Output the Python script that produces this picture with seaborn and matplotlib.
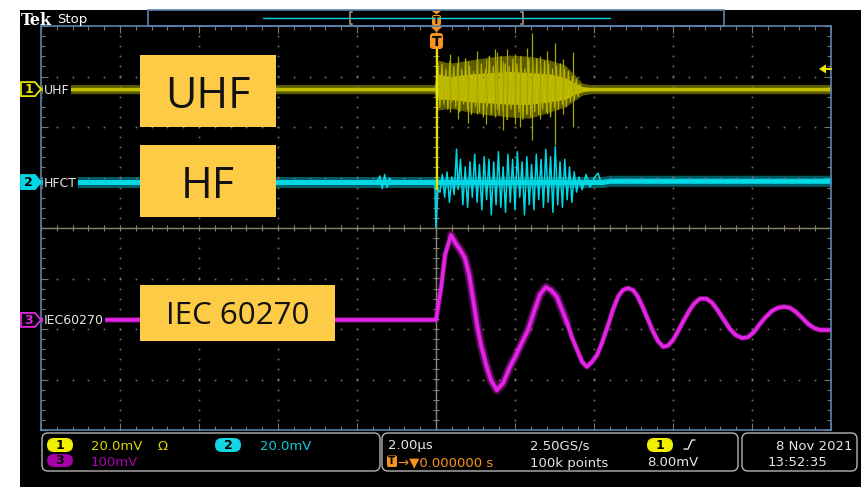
import numpy as np
import pandas as pd
import matplotlib
matplotlib.use("Agg")
import matplotlib.pyplot as plt
from matplotlib.patches import Rectangle, FancyBboxPatch, Polygon
from matplotlib.ticker import MultipleLocator
import seaborn as sns

# ---------------------------------------------------------------------------
# Acquisition settings
# ---------------------------------------------------------------------------
SCALE_MV = {"UHF": 20.0, "HFCT": 20.0, "IEC60270": 100.0}      # mV / div
POSITION_DIV = {"UHF": 2.75, "HFCT": 0.91, "IEC60270": -1.82}  # ground marker, div
TRIGGER_LEVEL_MV = 8.0

# ---------------------------------------------------------------------------
# Channel 1 - UHF antenna (time in µs, amplitude in mV)
# ---------------------------------------------------------------------------
uhf_env_t = [-10.0, -0.05, 0.05, 0.35, 0.85, 1.37, 1.87, 2.38, 2.89, 3.27, 3.52, 3.70, 3.90, 10.0]
uhf_env_hi = [1.8, 1.8, 11.5, 10.3, 11.5, 12.7, 13.5, 13.0, 11.5, 9.5, 5.5, 2.4, 1.8, 1.8]
uhf_env_lo = [-1.8, -1.8, -8.3, -7.5, -9.1, -10.3, -11.0, -11.5, -9.0, -7.0, -4.4, -2.4, -1.8, -1.8]
uhf_core_hi = [0.7, 0.7, 6.0, 5.0, 6.0, 6.5, 7.0, 6.5, 6.0, 4.5, 2.5, 1.0, 0.7, 0.7]
uhf_core_lo = [-0.7, -0.7, -4.0, -4.0, -5.0, -5.5, -6.0, -6.0, -5.0, -4.0, -2.0, -1.0, -0.7, -0.7]
# oscillation inside the burst
uhf_burst_t = [0.05, 0.10, 0.15, 0.20, 0.25, 0.30, 0.35, 0.40, 0.45, 0.50,
               0.55, 0.60, 0.65, 0.70, 0.75, 0.80, 0.85, 0.90, 0.95, 1.00,
               1.05, 1.10, 1.15, 1.20, 1.25, 1.30, 1.35, 1.40, 1.45, 1.50,
               1.55, 1.60, 1.65, 1.70, 1.75, 1.80, 1.85, 1.90, 1.95, 2.00,
               2.05, 2.10, 2.15, 2.20, 2.25, 2.30, 2.35, 2.40, 2.45, 2.50,
               2.55, 2.60, 2.65, 2.70, 2.75, 2.80, 2.85, 2.90, 2.95, 3.00,
               3.05, 3.10, 3.15, 3.20, 3.25, 3.30, 3.35, 3.40, 3.45, 3.50,
               3.55, 3.60, 3.65, 3.70]
uhf_burst_v = [9, -7, 10, -6, 8, -8, 11, -5, 9, -7,
               10, -9, 8, -6, 12, -8, 9, -10, 7, -7,
               12, -9, 10, -11, 8, -7, 13, -10, 9, -8,
               11, -10, 13, -9, 10, -12, 9, -8, 12, -11,
               10, -9, 13, -12, 8, -10, 12, -11, 11, -9,
               12, -10, 9, -8, 11, -9, 10, -11, 8, -7,
               9, -8, 10, -6, 8, -7, 7, -5, 5, -4,
               4, -3, 2, -1.5]
# isolated large excursions inside the burst
uhf_spike_t = [0.35, 0.56, 0.81, 1.04, 1.27, 1.49, 1.54, 1.70, 1.80, 2.00, 2.13, 2.30, 2.43, 2.63, 2.81, 3.01, 3.22, 3.47]
uhf_spike_hi = [14.0, 13.0, 11.0, 15.0, 12.0, 16.0, 14.7, 11.0, 16.0, 14.0, 12.0, 16.2, 22.2, 13.0, 15.0, 18.2, 12.0, 14.7]
uhf_spike_lo = [-9.0, -12.0, -13.5, -10.0, -14.0, -11.0, -8.0, -16.2, -12.0, -14.0, -15.0, -10.0, -20.2, -12.0, -10.0, -22.2, -10.0, -15.0]
uhf_trig_t = 0.02
uhf_trig_hi = 17.4
uhf_trig_lo = -40.0

# ---------------------------------------------------------------------------
# Channel 2 - HFCT
# ---------------------------------------------------------------------------
hfct_t = [-10.0, -1.50, -1.42, -1.36, -1.30, -1.24, -1.18, -1.10, -0.03, 0.0, 0.05,
          0.10, 0.16, 0.22, 0.28, 0.34, 0.40, 0.46, 0.52,
          0.56, 0.62, 0.68, 0.74, 0.80, 0.86, 0.92, 0.98,
          1.04, 1.10, 1.16, 1.22, 1.28, 1.34, 1.40, 1.46,
          1.52, 1.58, 1.64, 1.70, 1.76, 1.82, 1.88, 1.94,
          2.00, 2.06, 2.12, 2.18, 2.24, 2.30, 2.36, 2.42,
          2.48, 2.54, 2.60, 2.66, 2.72, 2.78, 2.84, 2.90,
          2.96, 3.02, 3.08, 3.14, 3.20, 3.26, 3.32, 3.38,
          3.44, 3.50, 3.56, 3.62,
          3.70, 3.80, 3.90, 4.00, 4.10, 4.20, 4.35, 10.0]
hfct_v = [0.0, 0.0, 2.4, -2.6, 3.0, -2.2, 1.5, 0.0, 0.0, -18.0, -3.0,
          -4, 3, -6, 4, -8, 2, -5, 13,
          -3, 9, -9, 6, -10, 8, -6, 11,
          -8, 7, -11, 10, -7, 9, -13, 8,
          -9, 12, -10, 6, -12, 11, -8, 9,
          -11, 12, -6, 8, -13, 10, -9, 7,
          -11, 11, -7, 9, -10, 13, -8, 10,
          -12, 14, -9, 8, -10, 9, -7, 6,
          -8, 4, -4, 2,
          -3, 3, -2, 1.5, 3.5, -1, 0.5, 0.5]
hfct_noise_t = [-10.0, 4.2, 4.4, 10.0]
hfct_noise_hi = [2.2, 2.2, 2.7, 2.7]
hfct_noise_lo = [-2.2, -2.2, -1.7, -1.7]
hfct_core_hi = [1.0, 1.0, 1.5, 1.5]
hfct_core_lo = [-1.0, -1.0, -0.5, -0.5]

# ---------------------------------------------------------------------------
# Channel 3 - IEC 60270 apparent-charge measuring circuit
# ---------------------------------------------------------------------------
iec_t = [-10.0, -0.02, 0.00, 0.13, 0.23, 0.38, 0.51, 0.61, 0.73, 0.84, 0.94,
         1.04, 1.14, 1.27, 1.39, 1.54, 1.70, 1.87, 2.03,
         2.18, 2.33, 2.48, 2.63, 2.78, 2.91, 3.06, 3.19,
         3.32, 3.44, 3.57, 3.70, 3.82, 3.95, 4.08, 4.20,
         4.35, 4.48, 4.61, 4.73, 4.86, 4.99, 5.11, 5.24,
         5.37, 5.49, 5.62, 5.75, 5.87, 6.00, 6.13, 6.28,
         6.41, 6.53, 6.68, 6.84, 6.99, 7.14, 7.29, 7.44,
         7.59, 7.75, 7.90, 8.05, 8.20, 8.35, 8.51, 8.66,
         8.81, 8.96, 9.11, 9.27, 9.42, 9.57, 9.72, 9.87, 10.0]
iec_v = [0, 0, 0, 65, 129, 168, 150, 139, 123, 89, 40,
         -10, -50, -89, -119, -139, -125, -93, -69,
         -44, -20, 16, 50, 65, 59, 46, 20,
         -6, -34, -59, -83, -93, -83, -69, -46,
         -12, 20, 46, 59, 63, 59, 46, 24,
         0, -22, -42, -53, -51, -40, -22, 0,
         18, 32, 42, 42, 34, 18, 0, -18,
         -30, -36, -34, -24, -8, 6, 18, 24,
         26, 24, 16, 4, -8, -16, -20, -20, -20]

# Readouts
ch_labels = ["UHF", "HFCT", "IEC60270"]
box_labels = ["UHF", "HF", "IEC 60270"]
ch1_scale_txt, ch2_scale_txt, ch3_scale_txt = "20.0mV", "20.0mV", "100mV"
timebase_txt, samplerate_txt, record_txt = "2.00µs", "2.50GS/s", "100k points"
delay_txt = "→▼0.000000 s"
trig_level_txt = "8.00mV"
date_txt, time_txt = "8 Nov 2021", "13:52:35"

# ---------------------------------------------------------------------------
YEL, YEL_DIM, YEL_CORE = "#e8e400", "#7c7a00", "#dcd800"
CYA, CYA_DIM = "#00d8e6", "#00a8b4"
MAG = "#e424e4"
ORANGE = "#f7941d"
DOT = "#7c7762"
FRAME = "#5a82ad"
WHITE_TXT = "#e6e6e6"
BOX_FILL = "#fdcb46"

sns.set_theme(style="dark", rc={"axes.facecolor": "black", "figure.facecolor": "black"})
plt.rcParams["font.family"] = ["DejaVu Sans"]

W, H = 861, 487
fig = plt.figure(figsize=(W / 100, H / 100), dpi=100)

# background layer in pixel units
bg = fig.add_axes([0, 0, 1, 1], zorder=0)
bg.set_xlim(0, W); bg.set_ylim(H, 0); bg.axis("off")
bg.add_patch(Rectangle((0, 0), W, H, fc="black", lw=0))
bg.add_patch(Rectangle((0, 0), W, 10, fc="white", lw=0))
bg.add_patch(Rectangle((0, 0), 20, H, fc="white", lw=0))

# graticule: 10 x 8 divisions, 2 µs/div
gx0, gy0, gx1, gy1 = 41, 26, 831, 430
ax = fig.add_axes([gx0 / W, (H - gy1) / H, (gx1 - gx0) / W, (gy1 - gy0) / H], zorder=1)
ax.set_facecolor("black")
ax.set_xlim(-10, 10)
ax.set_ylim(-4, 4)
ax.grid(False)
for s in ax.spines.values():
    s.set_color(FRAME); s.set_linewidth(1.2); s.set_visible(True)
ax.xaxis.set_major_locator(MultipleLocator(2))
ax.xaxis.set_minor_locator(MultipleLocator(0.4))
ax.yaxis.set_major_locator(MultipleLocator(1))
ax.yaxis.set_minor_locator(MultipleLocator(0.2))
ax.tick_params(which="both", direction="in", top=True, right=True, bottom=True, left=True,
               labelbottom=False, labelleft=False, color=DOT, width=0.8)
ax.tick_params(which="major", length=5)
ax.tick_params(which="minor", length=3)
ax.set_xlabel(""); ax.set_ylabel("")

ys_dots = np.arange(-4, 4.001, 0.2)
xs_dots = np.arange(-10, 10.001, 0.4)
for gx in [-8, -6, -4, -2, 2, 4, 6, 8]:
    ax.plot(np.full(ys_dots.size, gx), ys_dots, ls="none", marker="s", ms=1.2, mew=0, color=DOT)
for gy in [-3, -2, -1, 1, 2, 3]:
    ax.plot(xs_dots, np.full(xs_dots.size, gy), ls="none", marker="s", ms=1.2, mew=0, color=DOT)
ax.axhline(0, color="#8a836a", lw=1.0)
ax.axvline(0, color="#7f8a80", lw=1.0)
ax.vlines(xs_dots, -0.06, 0.06, color="#8a836a", lw=0.8)
ax.hlines(ys_dots, -0.08, 0.08, color="#8a836a", lw=0.8)


def to_div(v, ch):
    return np.asarray(v, dtype=float) / SCALE_MV[ch] + POSITION_DIV[ch]


# --- channel 3 (drawn first, lowest) ---
iec_df = pd.DataFrame({"t": iec_t, "div": to_div(iec_v, "IEC60270")})
fuzz = iec_df[(iec_df.t >= 0.3) & (iec_df.t <= 3.4)]
sns.lineplot(data=fuzz, x="t", y="div", estimator=None, sort=False, ax=ax,
             color="#c020c0", lw=6.5, alpha=0.35, solid_joinstyle="round")
sns.lineplot(data=iec_df, x="t", y="div", estimator=None, sort=False, ax=ax,
             color="#c018c0", lw=4.0, alpha=0.5, solid_joinstyle="round")
sns.lineplot(data=iec_df, x="t", y="div", estimator=None, sort=False, ax=ax,
             color=MAG, lw=2.6, solid_joinstyle="round")

# --- channel 2 ---
ax.fill_between(hfct_noise_t, to_div(hfct_noise_lo, "HFCT"), to_div(hfct_noise_hi, "HFCT"),
                color=CYA_DIM, alpha=0.55, lw=0)
ax.fill_between(hfct_noise_t, to_div(hfct_core_lo, "HFCT"), to_div(hfct_core_hi, "HFCT"),
                color=CYA, lw=0)
hfct_df = pd.DataFrame({"t": hfct_t, "div": to_div(hfct_v, "HFCT")})
sns.lineplot(data=hfct_df, x="t", y="div", estimator=None, sort=False, ax=ax,
             color=CYA, lw=1.1)

# --- channel 1 ---
ax.fill_between(uhf_env_t, to_div(uhf_env_lo, "UHF"), to_div(uhf_env_hi, "UHF"),
                color=YEL_DIM, alpha=0.75, lw=0)
uhf_df = pd.DataFrame({"t": uhf_burst_t, "div": to_div(uhf_burst_v, "UHF")})
sns.lineplot(data=uhf_df, x="t", y="div", estimator=None, sort=False, ax=ax,
             color="#b8b400", lw=0.9)
ax.vlines(uhf_spike_t, to_div(uhf_spike_lo, "UHF"), to_div(uhf_spike_hi, "UHF"),
          color="#a8a400", lw=0.9)
ax.fill_between(uhf_env_t, to_div(uhf_core_lo, "UHF"), to_div(uhf_core_hi, "UHF"),
                color=YEL_CORE, alpha=0.8, lw=0)
ax.vlines([uhf_trig_t], to_div([uhf_trig_lo], "UHF"), to_div([uhf_trig_hi], "UHF"),
          color=YEL, lw=1.6)

# ---------------------------------------------------------------------------
# Foreground layer: labels, markers, readouts (pixel units)
# ---------------------------------------------------------------------------
fg = fig.add_axes([0, 0, 1, 1], zorder=2)
fg.set_xlim(0, W); fg.set_ylim(H, 0); fg.axis("off")
fg.patch.set_alpha(0)

# header
fg.text(21, 25, "Tek", family="DejaVu Serif", weight="bold", size=11.5, color="white", va="baseline")
fg.text(57, 22.5, "Stop", size=9.5, color="white", va="baseline")
fg.add_patch(Rectangle((148, 10), 576, 16, fill=False, ec=FRAME, lw=1.2))
fg.plot([263, 610], [17.5, 17.5], color=CYA, lw=1.0)
for bx, d in [(350, 1), (523, -1)]:
    fg.plot([bx + 2 * d, bx, bx, bx + 2 * d], [12, 12, 24, 24], color="#8c8270", lw=1.4)
fg.add_patch(Polygon([(432, 11), (441, 11), (436.5, 14.5)], closed=True, fc=ORANGE, lw=0))
fg.add_patch(FancyBboxPatch((432, 15), 9, 10.5, boxstyle="round,pad=0,rounding_size=2", fc=ORANGE, lw=0))
fg.text(436.5, 20.5, "T", size=7, weight="bold", color="black", ha="center", va="center")

# trigger position marker
fg.add_patch(Polygon([(431, 27), (442, 27), (436.5, 32)], closed=True, fc=ORANGE, lw=0))
fg.add_patch(FancyBboxPatch((430, 33), 13, 16, boxstyle="round,pad=0,rounding_size=3", fc=ORANGE, lw=0))
fg.text(436.5, 41.5, "T", size=10, weight="bold", color="black", ha="center", va="center")

# trigger level marker
lvl_y = gy0 + (4 - (TRIGGER_LEVEL_MV / SCALE_MV["UHF"] + POSITION_DIV["UHF"])) * (gy1 - gy0) / 8
fg.add_patch(Polygon([(819, lvl_y), (826, lvl_y - 4.5), (826, lvl_y + 4.5)], closed=True, fc="#f0ec00", lw=0))
fg.plot([826, 831], [lvl_y, lvl_y], color="#f0ec00", lw=1.5)

# channel ground markers and labels
marker_style = [("1", YEL, "black", YEL), ("2", CYA, CYA, "black"), ("3", MAG, "black", MAG)]
for ch, lab, (num, ec, fc, tc) in zip(["UHF", "HFCT", "IEC60270"], ch_labels, marker_style):
    cy = gy0 + (4 - POSITION_DIV[ch]) * (gy1 - gy0) / 8
    fg.add_patch(Polygon([(21, cy - 7), (35, cy - 7), (41, cy), (35, cy + 7), (21, cy + 7)],
                         closed=True, fc=fc, ec=ec, lw=1.3))
    fg.text(28.5, cy + 0.5, num, size=9, weight="bold", color=tc, ha="center", va="center")
    fg.text(44, cy + 4.5, lab, size=9, color=WHITE_TXT, va="baseline",
            bbox=dict(fc="black", ec="none", pad=0.6))

# annotation boxes
for (x, y, w, h), txt, fs in zip([(140, 55, 136, 72), (140, 145, 136, 72), (140, 285, 195, 56)],
                                 box_labels, [31, 31, 22.5]):
    fg.add_patch(Rectangle((x, y), w, h, fc=BOX_FILL, lw=0))
    fg.text(x + w / 2, y + h / 2, txt, family="Open Sans", size=fs, color="#111111",
            ha="center", va="center_baseline")

# status bar
for (x, w) in [(42, 338), (382, 356), (742, 115)]:
    fg.add_patch(FancyBboxPatch((x, 433), w, 38, boxstyle="round,pad=0,rounding_size=6",
                                fill=False, ec="#b4b4b4", lw=1.0))


def pill(x, y, txt, fc, w=26, h=14):
    fg.add_patch(FancyBboxPatch((x, y), w, h, boxstyle="round,pad=0,rounding_size=7", fc=fc, lw=0))
    fg.text(x + w / 2, y + h / 2 + 0.5, txt, size=9, weight="bold", color="black",
            ha="center", va="center")


r1, r2 = 449.5, 466.5
FS = 9.5
pill(47, 438, "1", "#f2ee00")
fg.text(91, r1, ch1_scale_txt, size=FS, color="#d8d400", va="baseline")
fg.text(158, r1, "Ω", size=FS, color="#d8d400", va="baseline")
pill(215, 438, "2", "#14d6e4")
fg.text(260, r1, ch2_scale_txt, size=FS, color="#10c8d8", va="baseline")
pill(47, 454, "3", "#a400a8", h=13)
fg.text(91, r2, ch3_scale_txt, size=FS, color="#ac00b4", va="baseline")

fg.text(388, r1, timebase_txt, size=FS, color=WHITE_TXT, va="baseline")
fg.text(530, r1, samplerate_txt, size=FS, color=WHITE_TXT, va="baseline")
pill(647, 438, "1", "#f2ee00")
fg.plot([684, 688, 692, 695], [449, 449, 440, 440], color=WHITE_TXT, lw=1.0)
fg.add_patch(FancyBboxPatch((387, 455.5), 10, 11.5, boxstyle="round,pad=0,rounding_size=1.5", fc=ORANGE, lw=0))
fg.text(392, 461.5, "T", size=7.5, weight="bold", color="black", ha="center", va="center")
fg.text(398, r2, delay_txt, size=FS, color=ORANGE, va="baseline")
fg.text(530, r2, record_txt, size=FS, color=WHITE_TXT, va="baseline")
fg.text(647, r2, trig_level_txt, size=FS, color=WHITE_TXT, va="baseline")

fg.text(853, r1, date_txt, size=FS, color=WHITE_TXT, va="baseline", ha="right")
fg.text(768, r2, time_txt, size=FS, color=WHITE_TXT, va="baseline")

fig.savefig("out.png", dpi=100, facecolor="black")
